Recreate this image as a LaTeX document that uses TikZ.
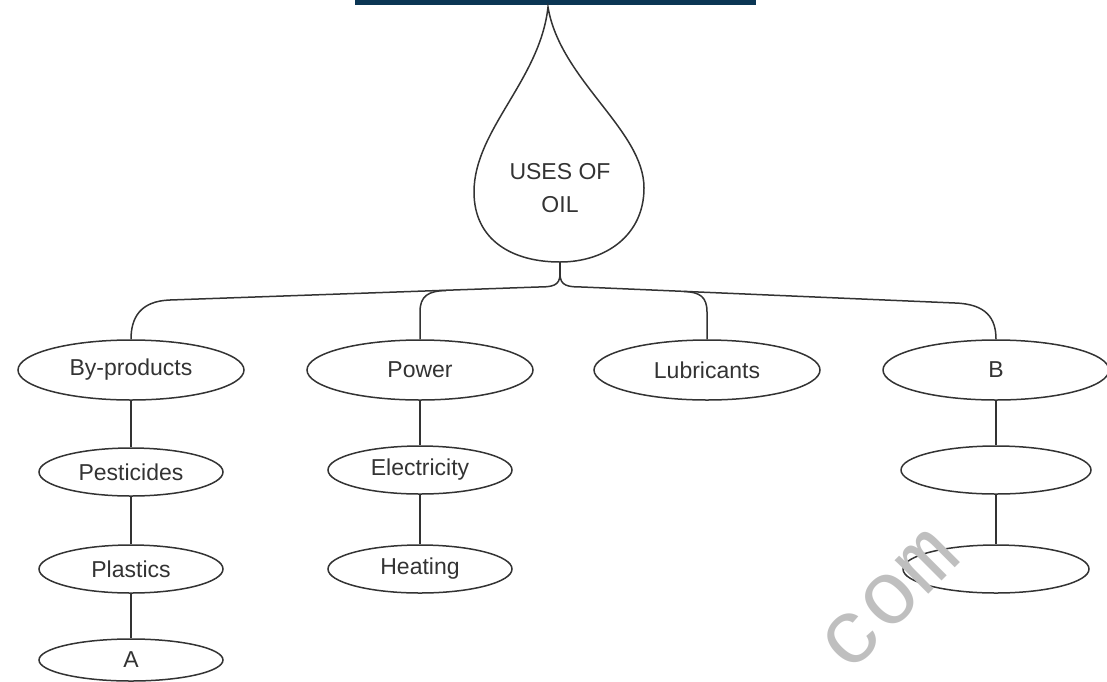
\documentclass[tikz,border=0pt]{standalone}
\usepackage{fontspec}
\setmainfont{Liberation Sans}
\newfontfamily\wmfont{Liberation Mono}
\usepackage{tikz}
\usetikzlibrary{shapes.geometric}
\definecolor{barnavy}{HTML}{0B3654}
\definecolor{inkgray}{HTML}{333333}

\begin{document}
\begin{tikzpicture}[x=1pt, y=-1pt,
  link/.style={draw=inkgray, line width=1.5pt},
  bigoval/.style={ellipse, draw=inkgray, line width=1.5pt, inner sep=0pt, minimum width=226pt, minimum height=60pt, text=inkgray, font=\fontsize{23}{28}\selectfont},
  oval/.style={ellipse, draw=inkgray, line width=1.5pt, inner sep=0pt, minimum width=184pt, minimum height=48pt, text=inkgray, font=\fontsize{23}{28}\selectfont}
]
  \useasboundingbox (0,0) rectangle (1107,681);
  \fill[barnavy] (355,0) rectangle (756,5);

  % the drop
  \coordinate (oilbase) at (560,262);
  \coordinate (stemend) at (560,274);
  \draw[link] (oilbase) .. controls (512,262) and (474,240) .. (474,192)
    .. controls (474,130) and (540,80) .. (548,7)
    .. controls (560,80) and (644,130) .. (644,188)
    .. controls (644,235) and (606,262) .. (oilbase);
  \node[align=center, text=inkgray, font=\fontsize{23}{33}\selectfont] (oil) at (560,188) {USES OF\\OIL};

  % first row
  \node[bigoval] (byprod) at (131,370) {By-products};
  \node[bigoval] (power) at (420,370) {Power};
  \node[bigoval] (lubric) at (707,370) {Lubricants};
  \node[bigoval] (bnode) at (996,370) {B};

  % lower rows
  \node[oval] (pest) at (131,472) {Pesticides};
  \node[oval] (plast) at (131,569) {Plastics};
  \node[oval, minimum height=42pt] (aitem) at (131,660) {A};
  \node[oval] (elec) at (420,470) {Electricity};
  \node[oval] (heat) at (420,569) {Heating};
  \node[oval, minimum width=190pt] (blankone) at (996,470) {};
  \node[oval, minimum width=186pt] (blanktwo) at (996,569) {};

  % trunk and branches
  \draw[link] (oilbase) -- (stemend);
  \draw[link] (stemend) .. controls (560,286) and (552,287) .. (538,287)
    -- (170,300) .. controls (140,301) and (131,318) .. (byprod.north);
  \draw[link] (stemend) .. controls (560,286) and (568,287) .. (582,287)
    -- (955,303) .. controls (986,304) and (996,318) .. (bnode.north);
  \coordinate (powjoin) at (446,290.5);
  \coordinate (lubjoin) at (684,291.5);
  \draw[link] (power.north) -- (420,312) .. controls (420,296) and (428,291) .. (powjoin);
  \draw[link] (lubric.north) -- (707,312) .. controls (707,297) and (700,292) .. (lubjoin);

  \draw[link] (byprod) -- (pest);
  \draw[link] (pest) -- (plast);
  \draw[link] (plast) -- (aitem);
  \draw[link] (power) -- (elec);
  \draw[link] (elec) -- (heat);
  \draw[link] (bnode) -- (blankone);
  \draw[link] (blankone) -- (blanktwo);

  \node[rotate=45, text=gray!50, font=\wmfont\fontsize{90}{90}\selectfont] (wmark) at (890,600) {com};
\end{tikzpicture}
\end{document}
